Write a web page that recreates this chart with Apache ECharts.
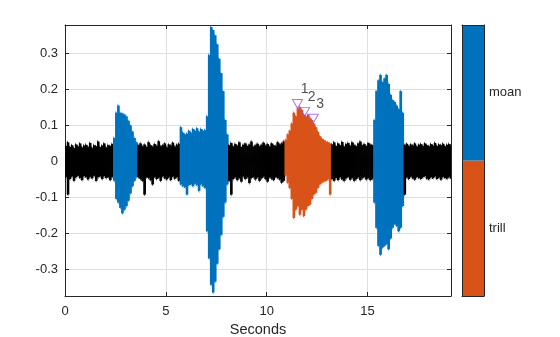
<!DOCTYPE html>
<html><head><meta charset="utf-8">
<script src="https://cdn.jsdelivr.net/npm/echarts@6/dist/echarts.min.js"></script>
<style>html,body{margin:0;padding:0;background:#fff}#c{width:560px;height:337px}</style>
</head><body><div id="c"></div>
<script>
// ---- axes ----
const xTicks = [0, 5, 10, 15];
const yTicks = [-0.3, -0.2, -0.1, 0, 0.1, 0.2, 0.3];
const xMax = 19.14, yMin = -0.374, yMax = 0.378;

// ---- waveform envelope, one peak pair per 0.1 s ----
const sampleStep = 0.1;
const segStart = [0.0, 2.4, 3.6, 5.7, 8.1, 10.9, 13.2, 15.3, 16.8];
const segLabel = ['noise', 'moan', 'noise', 'moan', 'noise', 'trill', 'noise', 'moan', 'noise'];
const upper = [
  // noise 0.0-2.3
  0.048, 0.058, 0.045, 0.050, 0.042, 0.052, 0.047, 0.055, 0.044, 0.049, 0.051, 0.046, 0.056, 0.043, 0.050, 0.047, 0.060, 0.045, 0.049, 0.055, 0.044, 0.050, 0.048, 0.053,
  // moan 2.4-3.5
  0.070, 0.140, 0.160, 0.140, 0.138, 0.135, 0.130, 0.118, 0.105, 0.088, 0.070, 0.058,
  // noise 3.6-5.6
  0.050, 0.055, 0.047, 0.052, 0.045, 0.058, 0.050, 0.046, 0.053, 0.048, 0.061, 0.047, 0.050, 0.055, 0.044, 0.052, 0.049, 0.057, 0.046, 0.051, 0.054,
  // moan 5.7-8.0
  0.100, 0.085, 0.080, 0.082, 0.090, 0.085, 0.095, 0.090, 0.097, 0.088, 0.095, 0.090, 0.092, 0.130, 0.300, 0.378, 0.370, 0.355, 0.330, 0.290, 0.250, 0.200, 0.120, 0.080,
  // noise 8.1-10.8
  0.050, 0.056, 0.047, 0.053, 0.049, 0.058, 0.045, 0.051, 0.055, 0.048, 0.052, 0.060, 0.046, 0.050, 0.054, 0.047, 0.051, 0.057, 0.049, 0.053, 0.046, 0.055, 0.050, 0.048, 0.058, 0.052, 0.055, 0.060,
  // trill 10.9-13.1
  0.065, 0.080, 0.090, 0.110, 0.140, 0.130, 0.152, 0.156, 0.148, 0.135, 0.130, 0.134, 0.124, 0.120, 0.110, 0.100, 0.087, 0.075, 0.068, 0.064, 0.060, 0.058, 0.055,
  // noise 13.2-15.2
  0.052, 0.058, 0.048, 0.055, 0.050, 0.059, 0.047, 0.053, 0.056, 0.049, 0.058, 0.051, 0.047, 0.055, 0.060, 0.050, 0.053, 0.048, 0.056, 0.052, 0.050,
  // moan 15.3-16.7
  0.120, 0.200, 0.230, 0.245, 0.225, 0.235, 0.245, 0.220, 0.190, 0.175, 0.170, 0.160, 0.150, 0.200, 0.140,
  // noise 16.8-19.1
  0.050, 0.054, 0.047, 0.052, 0.049, 0.055, 0.046, 0.051, 0.053, 0.048, 0.055, 0.050, 0.047, 0.053, 0.049, 0.056, 0.048, 0.052, 0.050, 0.054, 0.047, 0.051, 0.053, 0.049
];
const lower = [
  // noise 0.0-2.3
  -0.050, -0.098, -0.055, -0.048, -0.060, -0.050, -0.046, -0.052, -0.058, -0.047, -0.050, -0.056, -0.049, -0.053, -0.046, -0.060, -0.050, -0.048, -0.055, -0.047, -0.052, -0.050, -0.058, -0.049,
  // moan 2.4-3.5
  -0.060, -0.110, -0.120, -0.135, -0.150, -0.140, -0.130, -0.115, -0.095, -0.075, -0.060, -0.050,
  // noise 3.6-5.6
  -0.050, -0.055, -0.060, -0.098, -0.050, -0.052, -0.058, -0.070, -0.049, -0.055, -0.051, -0.060, -0.047, -0.053, -0.056, -0.050, -0.058, -0.048, -0.054, -0.050, -0.060,
  // moan 5.7-8.0
  -0.070, -0.075, -0.078, -0.098, -0.072, -0.070, -0.075, -0.068, -0.072, -0.088, -0.070, -0.075, -0.080, -0.200, -0.275, -0.348, -0.370, -0.340, -0.290, -0.250, -0.210, -0.160, -0.120, -0.070,
  // noise 8.1-10.8
  -0.060, -0.098, -0.055, -0.050, -0.058, -0.052, -0.062, -0.048, -0.055, -0.050, -0.066, -0.052, -0.049, -0.056, -0.050, -0.060, -0.053, -0.048, -0.055, -0.062, -0.050, -0.054, -0.058, -0.049, -0.052, -0.056, -0.065, -0.060,
  // trill 10.9-13.1
  -0.045, -0.065, -0.080, -0.110, -0.163, -0.140, -0.130, -0.154, -0.140, -0.158, -0.140, -0.130, -0.126, -0.110, -0.098, -0.093, -0.080, -0.070, -0.065, -0.062, -0.060, -0.056, -0.098,
  // noise 13.2-15.2
  -0.055, -0.060, -0.052, -0.058, -0.050, -0.056, -0.060, -0.053, -0.049, -0.057, -0.052, -0.060, -0.055, -0.050, -0.058, -0.053, -0.049, -0.056, -0.052, -0.058, -0.054,
  // moan 15.3-16.7
  -0.120, -0.190, -0.240, -0.265, -0.245, -0.240, -0.235, -0.250, -0.220, -0.190, -0.180, -0.185, -0.200, -0.190, -0.130,
  // noise 16.8-19.1
  -0.098, -0.050, -0.055, -0.048, -0.053, -0.057, -0.049, -0.052, -0.055, -0.050, -0.047, -0.054, -0.056, -0.050, -0.053, -0.048, -0.055, -0.051, -0.057, -0.049, -0.052, -0.054, -0.050, -0.053
];

// ---- peak markers ----
const peakTime = [11.53, 11.88, 12.31];
const peakValue = [0.159, 0.137, 0.118];
const peakName = ['1', '2', '3'];

// ---- colorbar classes (bottom to top) ----
const classNames = ['trill', 'moan'];
const classSpan = [1, 1];

const classColor = { noise: '#000000', moan: '#0072BD', trill: '#D95319' };
const FONT = 'Liberation Sans, Arial, Helvetica, sans-serif';
const TXT = '#262626';
const nSamples = upper.length;

// segment index of every sample
const sampleSeg = [];
for (let k = 0; k < segStart.length; k++) {
  const i0 = Math.round(segStart[k] / sampleStep);
  const i1 = k + 1 < segStart.length ? Math.round(segStart[k + 1] / sampleStep) : nSamples;
  for (let i = i0; i < i1; i++) sampleSeg[i] = k;
}

const series = [];
// one column per sample: positive peak in first half, negative peak in second half
series.push({
  type: 'custom', xAxisIndex: 0, yAxisIndex: 0, clip: true, silent: true, animation: false,
  data: upper.map((u, i) => [i * sampleStep, (i + 1) * sampleStep, u, lower[i], sampleSeg[i]]),
  encode: { x: [0, 1], y: [2, 3] },
  renderItem: (params, api) => {
    const p0 = api.coord([api.value(0), api.value(2)]);
    const p1 = api.coord([api.value(1), api.value(3)]);
    const pm = api.coord([(api.value(0) + api.value(1)) / 2, 0]);
    const color = classColor[segLabel[api.value(4)]];
    return {
      type: 'group',
      children: [
        { type: 'polygon', shape: { points: [
            [p0[0], pm[1]], [p0[0], p0[1] + 2], [(p0[0] + pm[0]) / 2, p0[1]], [pm[0], p0[1] + 2],
            [p1[0], pm[1] - 2], [p1[0], pm[1]], [pm[0], p1[1] - 2], [(pm[0] + p1[0]) / 2, p1[1]], [p0[0], p1[1] - 2]
          ] }, style: { fill: color } },
        { type: 'rect', shape: { x: p0[0] - 0.3, y: p0[1] + 2, width: p1[0] - p0[0] + 0.6, height: p1[1] - p0[1] - 4 },
          style: { fill: color } }
      ]
    };
  }
});

series.push({
  type: 'scatter', xAxisIndex: 0, yAxisIndex: 0,
  data: peakTime.map((t, i) => ({ value: [t, peakValue[i]], name: peakName[i] })),
  symbol: 'triangle', symbolRotate: 180, symbolSize: [10, 9],
  itemStyle: { color: 'rgba(0,0,0,0)', borderColor: '#A24BE6', borderWidth: 1 },
  label: { show: true, position: 'inside', offset: [7, -15], formatter: p => p.name,
           color: TXT, fontSize: 14, fontFamily: FONT },
  z: 5, animation: false
});

classNames.forEach((c, i) => {
  series.push({
    type: 'bar', xAxisIndex: 2, yAxisIndex: 2, stack: 'cb', data: [classSpan[i]],
    barWidth: '100%', itemStyle: { color: classColor[c] }, z: 2, animation: false, silent: true
  });
});

const boxLine = () => ({ show: true, onZero: false, lineStyle: { color: TXT, width: 1 } });

const option = {
  animation: false,
  textStyle: { fontFamily: FONT },
  grid: [
    { left: 65, right: 109, top: 25, bottom: 41, containLabel: false, outerBoundsMode: 'none' },
    { left: 462, width: 22, top: 25, bottom: 41, containLabel: false, outerBoundsMode: 'none' }
  ],
  xAxis: [
    { gridIndex: 0, type: 'value', min: 0, max: xMax, position: 'bottom',
      axisLine: boxLine(),
      axisTick: { show: true, inside: true, length: 4, customValues: xTicks, lineStyle: { color: TXT } },
      axisLabel: { customValues: xTicks, color: TXT, fontSize: 13, margin: 9, fontFamily: FONT },
      splitLine: { show: true, lineStyle: { color: '#DFDFDF', width: 1 } },
      name: 'Seconds', nameLocation: 'middle', nameGap: 25,
      nameTextStyle: { color: TXT, fontSize: 14.5, fontFamily: FONT } },
    { gridIndex: 0, type: 'value', min: 0, max: xMax, position: 'top',
      axisLine: boxLine(),
      axisTick: { show: true, inside: true, length: 4, customValues: xTicks, lineStyle: { color: TXT } },
      axisLabel: { show: false }, splitLine: { show: false } },
    { gridIndex: 1, type: 'category', data: ['cb'], position: 'bottom', z: 5,
      axisLine: boxLine(), axisTick: { show: false }, axisLabel: { show: false } },
    { gridIndex: 1, type: 'category', data: ['cb'], position: 'top', z: 5,
      axisLine: boxLine(), axisTick: { show: false }, axisLabel: { show: false } }
  ],
  yAxis: [
    { gridIndex: 0, type: 'value', min: yMin, max: yMax, position: 'left',
      axisLine: boxLine(),
      axisTick: { show: true, inside: true, length: 4, customValues: yTicks, lineStyle: { color: TXT } },
      axisLabel: { customValues: yTicks, color: TXT, fontSize: 13, margin: 7, fontFamily: FONT,
                   formatter: v => (Math.abs(v) < 1e-9 ? '0' : v.toFixed(1)) },
      splitLine: { show: true, lineStyle: { color: '#DFDFDF', width: 1 } } },
    { gridIndex: 0, type: 'value', min: yMin, max: yMax, position: 'right',
      axisLine: boxLine(),
      axisTick: { show: true, inside: true, length: 4, customValues: yTicks, lineStyle: { color: TXT } },
      axisLabel: { show: false }, splitLine: { show: false } },
    { gridIndex: 1, type: 'value', min: 0, max: 2, position: 'right', z: 5,
      axisLine: boxLine(), axisTick: { show: false }, splitLine: { show: false },
      axisLabel: { customValues: [0.5, 1.5], color: TXT, fontSize: 13, margin: 5, fontFamily: FONT,
                   formatter: v => classNames[Math.floor(v)] } },
    { gridIndex: 1, type: 'value', min: 0, max: 2, position: 'left', z: 5,
      axisLine: boxLine(), axisTick: { show: false }, splitLine: { show: false }, axisLabel: { show: false } }
  ],
  series: series
};

const chart = echarts.init(document.getElementById('c'), null, { renderer: 'canvas' });
chart.setOption(option);
</script>
</body></html>
